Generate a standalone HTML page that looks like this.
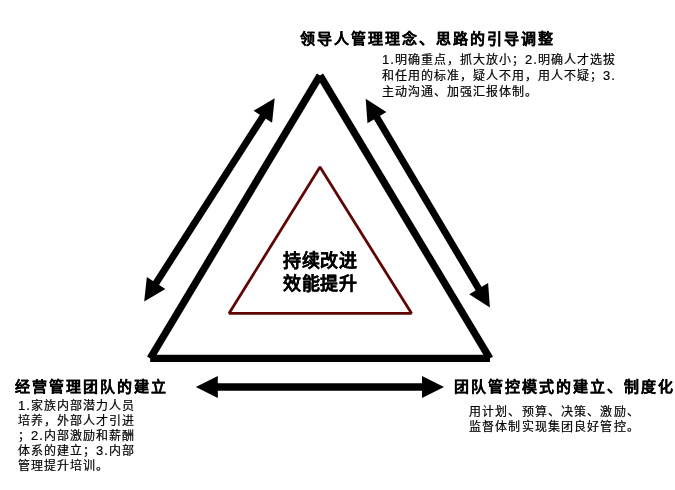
<!DOCTYPE html><html lang="zh-CN"><head><meta charset="utf-8"><style>
html,body{margin:0;padding:0;background:#fff;width:675px;height:490px;overflow:hidden;position:relative}
.x{position:absolute;white-space:nowrap;transform:translateZ(0);font-family:"Liberation Sans",sans-serif;color:#000;line-height:1}
.t{font-size:15px;font-weight:bold;letter-spacing:2px;-webkit-text-stroke:0.15px #000}
.b{font-size:12px;letter-spacing:1px;-webkit-text-stroke:0.2px #000}
.n{font-size:13px;letter-spacing:1.08px}
.bs{letter-spacing:1.15px}
.c{font-size:18px;font-weight:bold;letter-spacing:0.6px;-webkit-text-stroke:0.15px #000}
</style></head><body>
<svg width="675" height="490" viewBox="0 0 675 490" style="position:absolute;left:0;top:0">
<g stroke="#000" stroke-width="7.30" stroke-linecap="butt" fill="none">
<line x1="150.20" y1="358.40" x2="320.00" y2="75.50"/>
<line x1="320.00" y1="75.50" x2="489.80" y2="358.40"/>
<line x1="150.20" y1="358.40" x2="490.00" y2="358.40"/>
</g>
<polygon points="320.00,167.10 229.10,313.30 411.50,313.30" fill="none" stroke="#600505" stroke-width="2.75" stroke-linejoin="bevel"/>
<g fill="#000" stroke="none">
<polygon points="274.70,98.20 253.56,110.77 272.07,122.66"/><polygon points="144.20,301.50 146.83,277.04 165.34,288.93"/><line x1="263.36" y1="115.87" x2="155.54" y2="283.83" stroke="#000" stroke-width="7.00"/>
<polygon points="365.70,98.70 367.49,123.23 386.40,111.99"/><polygon points="489.90,307.60 469.20,294.31 488.11,283.07"/><line x1="376.43" y1="116.75" x2="479.17" y2="289.55" stroke="#000" stroke-width="7.00"/>
<polygon points="195.80,387.00 217.80,398.00 217.80,376.00"/><polygon points="444.00,387.00 422.00,398.00 422.00,376.00"/><line x1="216.80" y1="387.00" x2="423.00" y2="387.00" stroke="#000" stroke-width="7.50"/>
</g></svg>
<div class="x t" style="left:300px;top:31.1px">领导人管理理念、思路的引导调整</div>
<div class="x b" style="left:382px;top:52.5px"><span class="n">1.</span>明确重点，抓大放小；<span class="n">2.</span>明确人才选拔</div>
<div class="x b" style="left:382px;top:68.5px">和任用的标准，疑人不用，用人不疑；<span class="n">3.</span></div>
<div class="x b" style="left:382px;top:86px">主动沟通、加强汇报体制。</div>
<div class="x c" style="left:283px;top:251.6px">持续改进</div>
<div class="x c" style="left:283px;top:275px">效能提升</div>
<div class="x t" style="left:15px;top:379.2px">经营管理团队的建立</div>
<div class="x b" style="left:18px;top:398.5px"><span class="n">1.</span>家族内部潜力人员</div>
<div class="x b" style="left:18px;top:415.2px">培养，外部人才引进</div>
<div class="x b" style="left:18px;top:428.8px">；<span class="n">2.</span>内部激励和薪酬</div>
<div class="x b" style="left:18px;top:444.2px">体系的建立；<span class="n">3.</span>内部</div>
<div class="x b" style="left:18px;top:460.2px">管理提升培训。</div>
<div class="x t" style="left:454px;top:378.6px">团队管控模式的建立、制度化</div>
<div class="x b bs" style="left:469px;top:406.3px">用计划、预算、决策、激励、</div>
<div class="x b bs" style="left:469px;top:421.1px">监督体制实现集团良好管控。</div>
</body></html>
